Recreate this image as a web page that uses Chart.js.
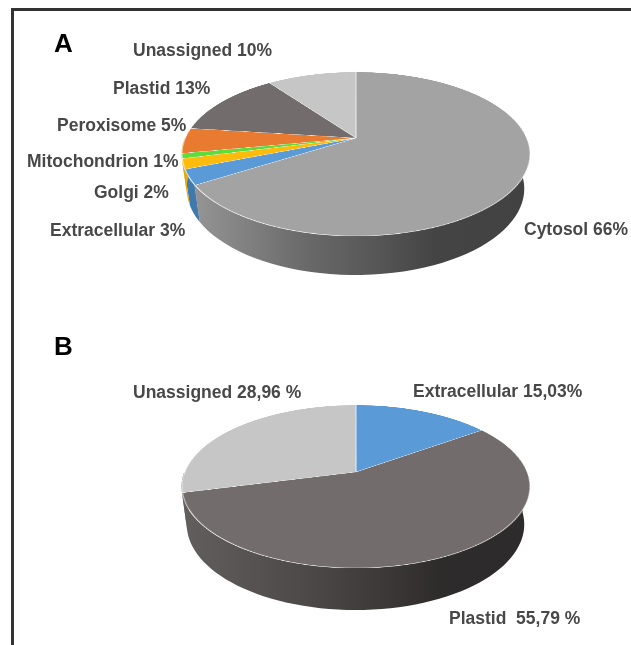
<!DOCTYPE html>
<html>
<head>
<meta charset="utf-8">
<title>Pie charts A and B</title>
<script src="https://cdn.jsdelivr.net/npm/chart.js@4"></script>
<style>
  html, body { margin: 0; background: #fff; }
  #page { position: relative; width: 631px; height: 645px; overflow: hidden; background: #fff; filter: blur(0.7px); }
  #frame { position: absolute; left: 11px; top: 8px; right: -10px; bottom: -10px; border-top: 3px solid #333; border-left: 3px solid #333; }
  canvas { position: absolute; }
  .label { position: absolute; white-space: pre; font: bold 17.5px "Liberation Sans", Arial, sans-serif; color: #484848; transform: translateY(-50%); }
  .panel { position: absolute; font: bold 26px "Liberation Sans", Arial, sans-serif; color: #000; transform: translateY(-50%); }
</style>
</head>
<body>
<div id="page">
  <div id="frame"></div>
  <canvas id="wallA" width="631" height="645" style="left:0;top:0"></canvas>
  <canvas id="wallB" width="631" height="645" style="left:0;top:0"></canvas>
  <canvas id="pieA"></canvas>
  <canvas id="pieB"></canvas>
</div>
<script>
// データ
const categoriesA = ['Cytosol', 'Extracellular', 'Golgi', 'Mitochondrion', 'Peroxisome', 'Plastid', 'Unassigned'];
const valuesA = [66, 3, 2, 1, 5, 13, 10];
const labelsA = ['Cytosol 66%', 'Extracellular 3%', 'Golgi 2%', 'Mitochondrion 1%', 'Peroxisome 5%', 'Plastid 13%', 'Unassigned 10%'];

const categoriesB = ['Extracellular', 'Plastid', 'Unassigned'];
const valuesB = [15.03, 55.79, 28.96];
const labelsB = ['Extracellular 15,03%', 'Plastid  55,79 %', 'Unassigned 28,96 %'];

// 色
const colorsA = ['#a3a3a3', '#5a9ad6', '#fdbb0b', '#5fdc3c', '#e97b30', '#726d6c', '#c6c6c6'];
const wallColorsA = [null, '#4279ad', '#e0aa10', '#e0aa10', '#e0aa10', '#e0aa10', '#e0aa10'];
const wallStopsA = [[190, '#969696'], [311, '#686868'], [378, '#565656'], [435, '#444444'], [530, '#424242']];

const colorsB = ['#5a9ad6', '#726d6c', '#c6c6c6'];
const wallColorsB = ['#4279ad', null, '#625e5d'];
const wallStopsB = [[185, '#625e5d'], [311, '#4c4847'], [400, '#393535'], [440, '#2e2b2b'], [525, '#2d2b2b']];

// ラベル位置 [left, 中心y]
const labelPosA = [[524, 229], [50, 230], [94, 192], [27, 161], [57, 124.5], [113, 88], [133, 50]];
const labelPosB = [[413, 391], [449, 618], [133, 392]];

// 透視投影のパラメータ (頂点, 上面の縮尺, 側面の奥行き)
const viewA = { cx: 355.5, cy: 138, b: 170.7, a: 78.9, p: -0.195, c: 35.5, q: 0.03 };
const viewB = { cx: 355.5, cy: 472, b: 171.2, a: 78.9, p: -0.178, c: 38.7, q: 0.03 };

function project(view, angle, z) {
  const x = Math.cos(angle);
  const y = Math.sin(angle);
  const w = 1 + view.p * y + view.q * z;
  return [view.cx + view.b * x / w, view.cy + (view.a * y + view.c * z) / w];
}

// 側面をarc要素の角度から描く (手前側だけ)
function drawWall(chart, wallId, view, wallColors, stops) {
  const ctx = document.getElementById(wallId).getContext('2d');
  const gradient = ctx.createLinearGradient(stops[0][0], 0, stops[stops.length - 1][0], 0);
  const span = stops[stops.length - 1][0] - stops[0][0];
  stops.forEach(s => gradient.addColorStop((s[0] - stops[0][0]) / span, s[1]));

  chart.getDatasetMeta(0).data.forEach((arc, i) => {
    const steps = 80;
    const angles = [];
    for (let k = 0; k <= steps; k++) {
      const angle = arc.startAngle + (arc.endAngle - arc.startAngle) * k / steps;
      if (Math.sin(angle) > 0) angles.push(angle);
    }
    if (angles.length < 2) return;
    ctx.beginPath();
    angles.forEach((angle, k) => {
      const pt = project(view, angle, 0);
      k === 0 ? ctx.moveTo(pt[0], pt[1]) : ctx.lineTo(pt[0], pt[1]);
    });
    angles.slice().reverse().forEach(angle => {
      const pt = project(view, angle, 1);
      ctx.lineTo(pt[0], pt[1]);
    });
    ctx.closePath();
    ctx.fillStyle = wallColors[i] || gradient;
    ctx.fill();
  });
}

function drawPie(canvasId, wallId, view, categories, values, colors, wallColors, stops) {
  const canvas = document.getElementById(canvasId);
  canvas.style.width = '400px';
  canvas.style.height = '400px';
  canvas.style.left = (view.cx - 200) + 'px';
  canvas.style.top = (view.cy - 200) + 'px';

  const chart = new Chart(canvas, {
    type: 'pie',
    data: {
      labels: categories,
      datasets: [{
        data: values,
        backgroundColor: colors,
        borderColor: '#ffffff',
        borderWidth: 0.8,
      }],
    },
    options: {
      responsive: false,
      animation: false,
      devicePixelRatio: 2,
      events: [],
      plugins: { legend: { display: false }, tooltip: { enabled: false } },
    },
  });
  chart.resize(400, 400);
  chart.update();

  const R = chart.getDatasetMeta(0).data[0].outerRadius;
  canvas.style.transformOrigin = '50% 50%';
  canvas.style.transform = 'matrix3d(' + [
    view.b / R, 0, 0, 0,
    0, view.a / R, 0, view.p / R,
    0, 0, 1, 0,
    0, 0, 0, 1,
  ].join(',') + ')';

  drawWall(chart, wallId, view, wallColors, stops);
}

function addText(cls, text, x, y) {
  const el = document.createElement('div');
  el.className = cls;
  el.textContent = text;
  el.style.left = x + 'px';
  el.style.top = y + 'px';
  document.getElementById('page').appendChild(el);
}

drawPie('pieA', 'wallA', viewA, categoriesA, valuesA, colorsA, wallColorsA, wallStopsA);
drawPie('pieB', 'wallB', viewB, categoriesB, valuesB, colorsB, wallColorsB, wallStopsB);

labelsA.forEach((t, i) => addText('label', t, labelPosA[i][0], labelPosA[i][1]));
labelsB.forEach((t, i) => addText('label', t, labelPosB[i][0], labelPosB[i][1]));
addText('panel', 'A', 54, 43);
addText('panel', 'B', 54, 346);
</script>
</body>
</html>
